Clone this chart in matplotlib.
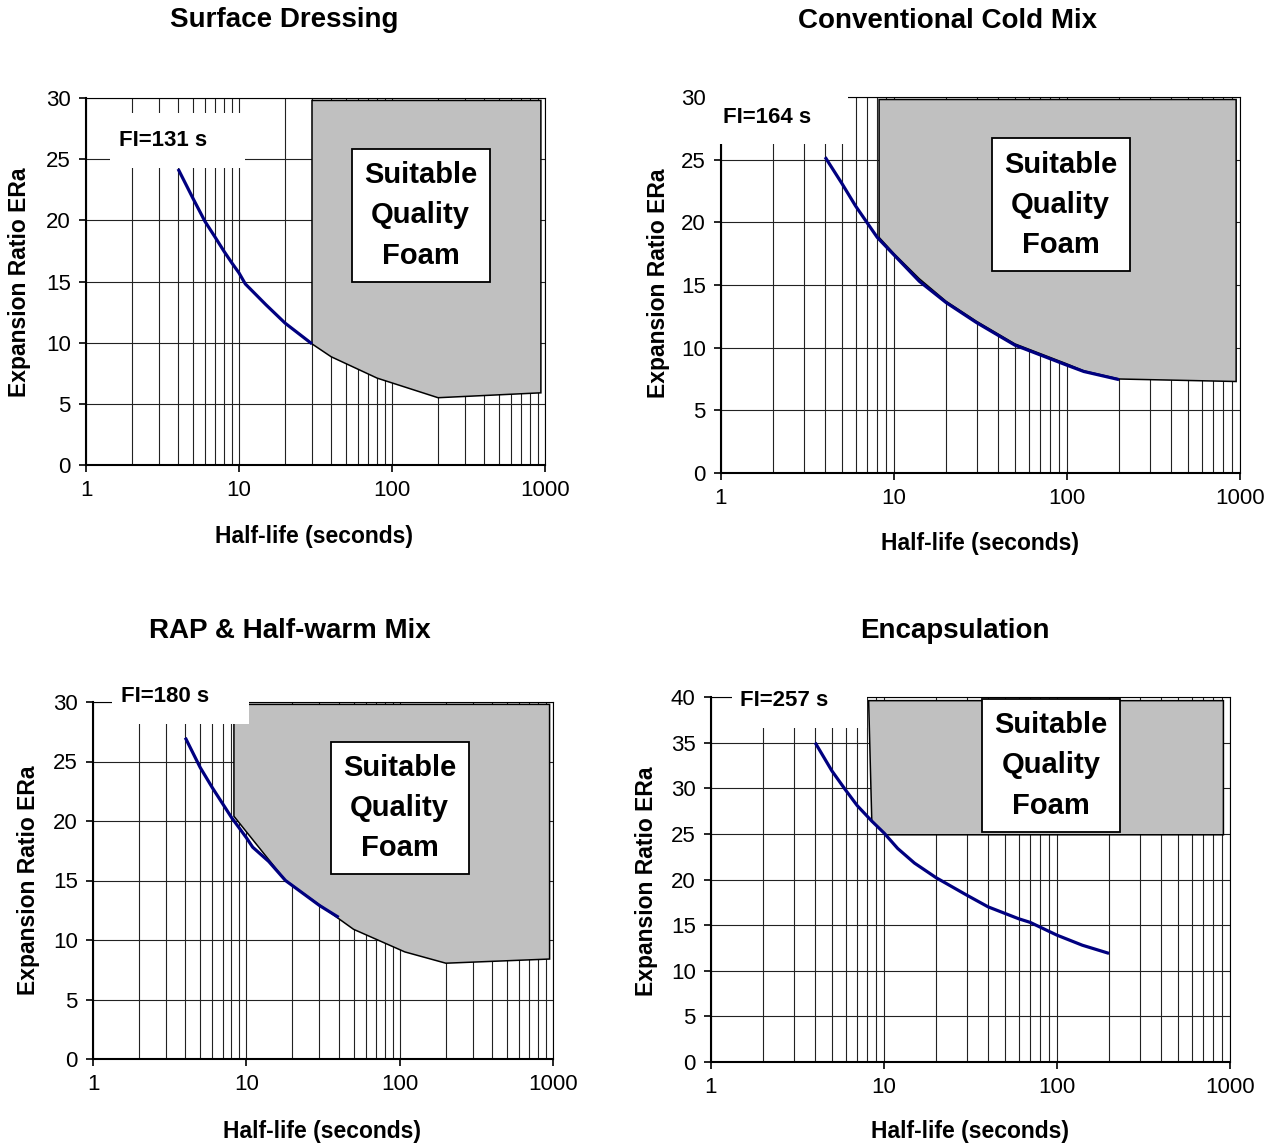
import numpy as np
import matplotlib
matplotlib.use("Agg")
import matplotlib.pyplot as plt
from matplotlib.patches import Polygon, Rectangle
from matplotlib.ticker import FixedLocator, LogLocator, NullFormatter

plt.rcParams['font.family'] = ['Liberation Sans', 'DejaVu Sans']

W, H = 1270, 1146

# ------------------------------------------------------------------
# values
# ------------------------------------------------------------------
titles = ["Surface Dressing", "Conventional Cold Mix", "RAP & Half-warm Mix", "Encapsulation"]
fi_labels = ["FI=131 s", "FI=164 s", "FI=180 s", "FI=257 s"]
ymax = [30, 30, 30, 40]

# half-life (s) / expansion ratio curves
hl_sd = [4, 5, 6, 7, 8, 9, 10, 11, 15, 20, 30]
er_sd = [24.2, 21.8, 19.9, 18.6, 17.45, 16.5, 15.7, 14.8, 13.1, 11.6, 9.9]

hl_cm = [4, 5, 6, 8, 10, 14, 20, 30, 50, 100, 125, 200]
er_cm = [25.2, 23.1, 21.3, 18.8, 17.4, 15.3, 13.6, 12.0, 10.2, 8.6, 8.1, 7.45]

hl_rap = [4, 5, 6, 8, 10, 11, 14, 18, 30, 40]
er_rap = [27.0, 24.5, 22.8, 20.3, 18.6, 17.8, 16.6, 15.0, 12.9, 11.9]

hl_en = [4, 5, 6, 7, 8.5, 10, 12, 15, 20, 30, 40, 60, 70, 100, 140, 200]
er_en = [35.0, 31.9, 29.8, 28.1, 26.4, 25.1, 23.4, 21.8, 20.2, 18.3, 17.0, 15.7, 15.3, 13.9, 12.8, 11.9]

# "suitable quality foam" zones (polygon outlines)
zone_sd_x = [30, 940, 940, 200, 80, 40, 30]
zone_sd_y = [29.8, 29.8, 5.9, 5.5, 7.1, 8.85, 9.9]

zone_cm_x = [8.2, 950, 950, 200, 125, 100, 50, 30, 20, 14, 10, 8.2]
zone_cm_y = [29.8, 29.8, 7.3, 7.5, 8.15, 8.7, 10.3, 12.1, 13.7, 15.5, 17.5, 18.8]

zone_rap_x = [8.3, 950, 950, 200, 108, 50, 18, 8.3]
zone_rap_y = [29.8, 29.8, 8.4, 8.05, 9.0, 10.9, 15.0, 20.4]

zone_en_x = [8.15, 916, 916, 10.3, 8.5]
zone_en_y = [39.6, 39.6, 24.9, 24.9, 26.4]

curves = [(hl_sd, er_sd), (hl_cm, er_cm), (hl_rap, er_rap), (hl_en, er_en)]
zones = [(zone_sd_x, zone_sd_y), (zone_cm_x, zone_cm_y),
         (zone_rap_x, zone_rap_y), (zone_en_x, zone_en_y)]

# ------------------------------------------------------------------
# layout (pixels of the 1270x1146 picture)
# ------------------------------------------------------------------
ax_px = [(86, 98, 545, 465), (721, 97, 1240, 473),
         (93, 702, 553, 1059), (711, 697, 1230, 1062)]
title_px = [(284, 27), (947, 28), (290, 638), (955, 638)]
xlab_px = [(314, 543), (980, 550), (322, 1138), (970, 1138)]
ylab_px = [(19.5, 282), (658, 283), (29, 880), (646, 881)]
fi_pos = [(3.19, 26.1), (1.85, 27.95), (2.97, 30.0), (2.64, 39.0)]
fi_box = [(0.052, 0.346, 0.809, 0.958), (-0.02, 0.245, 0.875, 1.04),
          (0.042, 0.340, 0.937, 1.06), (0.040, 0.300, 0.914, 1.05)]
foam_pos = [(154, 20.4), (92, 21.4), (100, 21.1), (92.4, 32.5)]

navy = '#000080'
grey = '#C0C0C0'

fig = plt.figure(figsize=(W / 100, H / 100), dpi=100)


def fx(x):
    return x / W


def fy(y):
    return 1 - y / H


for i in range(4):
    l, t, r, b = ax_px[i]
    ax = fig.add_axes([fx(l), fy(b), (r - l) / W, (b - t) / H])
    ax.set_xscale('log')
    ax.set_xlim(1, 1000)
    ax.set_ylim(0, ymax[i])

    ax.xaxis.set_major_locator(FixedLocator([1, 10, 100, 1000]))
    ax.set_xticklabels(['1', '10', '100', '1000'])
    ax.xaxis.set_minor_locator(LogLocator(base=10, subs=np.arange(2, 10)))
    ax.xaxis.set_minor_formatter(NullFormatter())
    ax.yaxis.set_major_locator(FixedLocator(np.arange(0, ymax[i] + 1, 5)))

    ax.set_axisbelow(True)
    ax.grid(which='both', axis='x', color='#222222', lw=0.8)
    ax.grid(which='major', axis='y', color='#222222', lw=0.8)

    ax.tick_params(which='major', length=5, width=1.2, labelsize=16, pad=6, color='black')
    ax.tick_params(axis='x', which='minor', length=0)
    ax.tick_params(top=False, right=False)
    for s in ['left', 'bottom']:
        ax.spines[s].set_linewidth(1.5)
    for s in ['top', 'right']:
        ax.spines[s].set_linewidth(0.8)

    zx, zy = zones[i]
    ax.add_patch(Polygon(np.column_stack([zx, zy]), closed=True, facecolor=grey,
                         edgecolor='black', lw=1.1, zorder=2))

    hx, ey = curves[i]
    ax.plot(hx, ey, color=navy, lw=2.3, zorder=3, solid_capstyle='butt')

    x0, x1, y0, y1 = fi_box[i]
    ax.add_patch(Rectangle((x0, y0), x1 - x0, y1 - y0, transform=ax.transAxes,
                           facecolor='white', edgecolor='none', clip_on=False, zorder=2.7))
    ax.text(fi_pos[i][0], fi_pos[i][1], fi_labels[i], fontsize=16, fontweight='bold',
            ha='center', va='baseline', zorder=5, clip_on=False)

    ax.text(foam_pos[i][0], foam_pos[i][1], "Suitable\nQuality\nFoam", fontsize=21,
            fontweight='bold', ha='center', va='center', multialignment='center',
            linespacing=1.55, zorder=6,
            bbox=dict(boxstyle='square,pad=0.42', facecolor='white', edgecolor='black', lw=1.3))

    fig.text(fx(title_px[i][0]), fy(title_px[i][1]), titles[i], fontsize=20,
             fontweight='bold', ha='center', va='baseline')
    fig.text(fx(xlab_px[i][0]), fy(xlab_px[i][1]), "Half-life (seconds)", fontsize=16.5,
             fontweight='bold', ha='center', va='baseline')
    fig.text(fx(ylab_px[i][0]), fy(ylab_px[i][1]), "Expansion Ratio ERa", fontsize=16.5,
             fontweight='bold', ha='center', va='center', rotation=90)

fig.savefig('out.png', dpi=100)
